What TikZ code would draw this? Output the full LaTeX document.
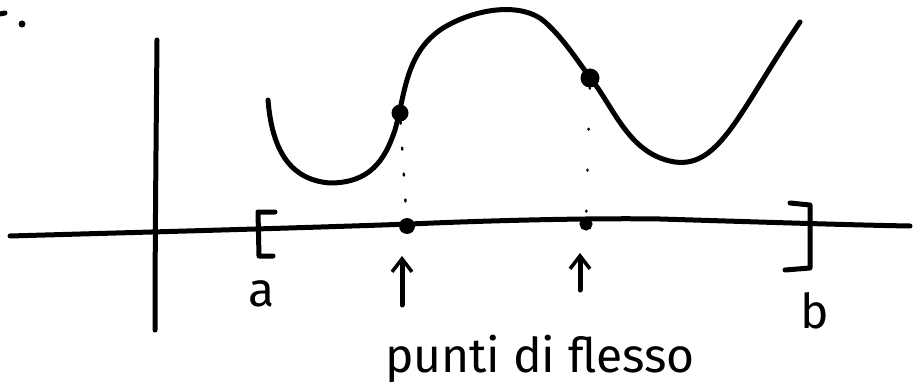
\documentclass[tikz,border=0pt]{standalone}
\usepackage{fontspec}
\setmainfont{Fira Sans}
\usetikzlibrary{arrows.meta}
\begin{document}
\begin{tikzpicture}[x=1pt,y=-1pt,
  ink/.style={line width=5pt,line cap=round,line join=round,black},
  dotmark/.style={fill=black,circle,inner sep=0pt},
  lbl/.style={inner sep=0pt,font=\fontsize{48}{52}\selectfont}]
\useasboundingbox (0,0) rectangle (920,390);
% top-left stray marks
\draw[ink] (0,14) -- (5,13);
\fill (22,24) circle (3.5);
% axes
\draw[ink] (157,40) .. controls (156,150) and (155,250) .. (155,330);
\draw[ink] (10,236) .. controls (150,232) and (300,228) .. (410,224)
  .. controls (500,220) and (600,218) .. (660,219)
  .. controls (760,222) and (850,225) .. (910,226);
% brackets
\draw[ink] (275,212) -- (258,212) -- (259,256) -- (273,256);
\draw[ink] (790,203) -- (810,205) -- (810,268) -- (785,270);
% curve
\draw[ink] (268,100) .. controls (272,150) and (290,180) .. (330,183)
  .. controls (370,183) and (385,160) .. (395,130)
  .. controls (405,95) and (405,55) .. (440,30)
  .. controls (470,10) and (520,0) .. (545,22)
  .. controls (565,40) and (578,62) .. (592,80)
  .. controls (615,110) and (630,155) .. (675,162)
  .. controls (720,168) and (740,110) .. (800,22);
% inflection points
\node[dotmark,minimum size=17pt] (p1) at (400,113) {};
\node[dotmark,minimum size=19pt] (p2) at (590,78) {};
\node[dotmark,minimum size=16pt] (q1) at (407,226) {};
\node[draw,circle,line width=3pt,fill=black,minimum size=10pt,inner sep=0pt] (q2) at (586,224) {};
% dotted projections
\draw[line width=2.4pt,line cap=round,dash pattern=on 2pt off 24pt] (p1) -- (q1);
\draw[line width=2.4pt,line cap=round,dash pattern=on 1pt off 40pt] (p2) -- (q2);
% arrows
\coordinate (a1) at (402,305);
\coordinate (a1t) at (402,256);
\coordinate (a2) at (580,290);
\coordinate (a2t) at (580,253);
\draw[ink,-{Straight Barb[length=13pt,width=20pt,line width=3.5pt]}] (a1) -- (a1t);
\draw[ink,-{Straight Barb[length=13pt,width=20pt,line width=3.5pt]}] (a2) -- (a2t);
% labels
\node[lbl] (la) at (262,294) {a};
\node[lbl] (lb) at (815,311) {b};
\node[lbl,anchor=base] (lt) at (540,372) {punti di flesso};
\end{tikzpicture}
\end{document}
